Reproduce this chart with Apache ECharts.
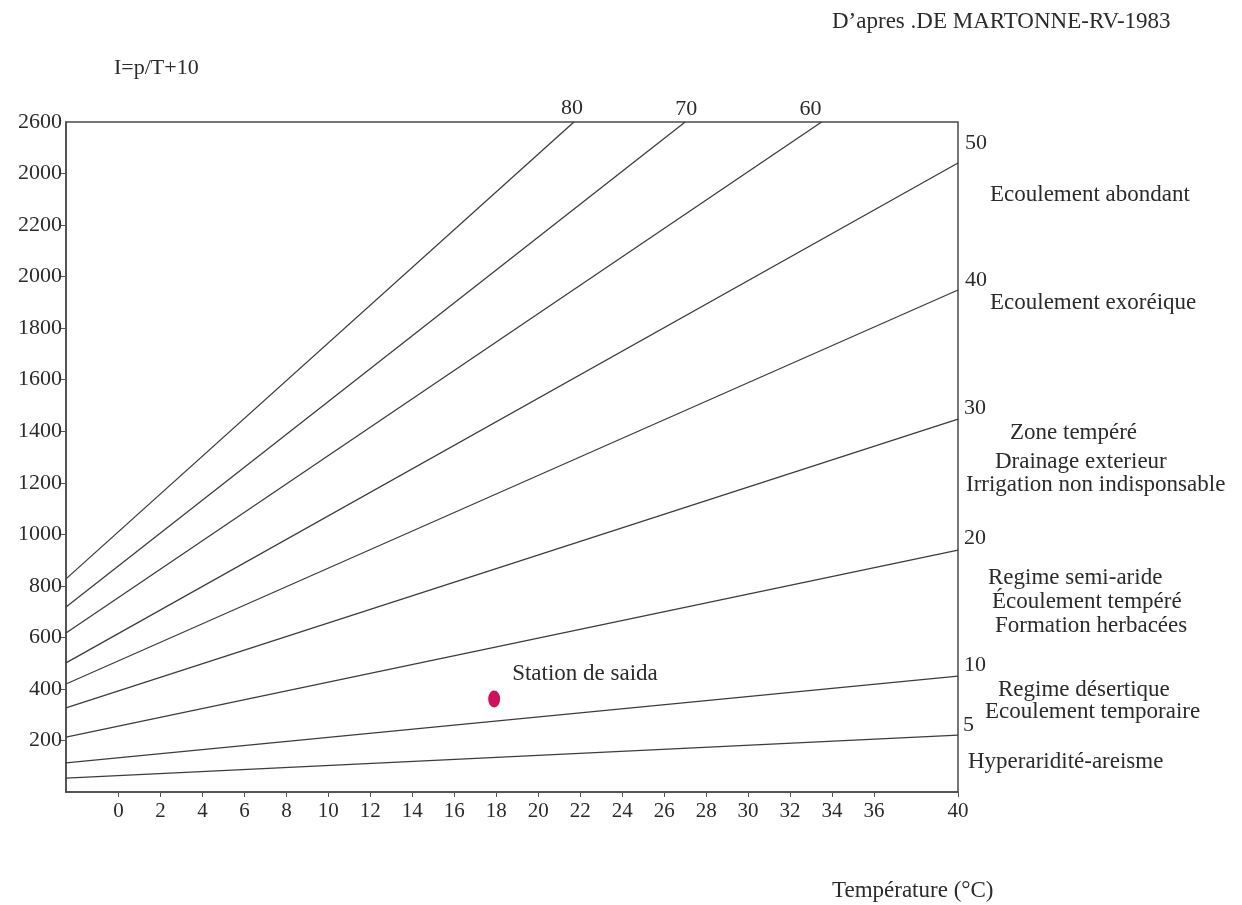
<!DOCTYPE html>
<html>
<head>
<meta charset="utf-8">
<title>Indice d'aridité de De Martonne</title>
<script src="https://cdn.jsdelivr.net/npm/echarts@6/dist/echarts.min.js"></script>
<style>
  html, body { margin: 0; padding: 0; background: #fff; }
  #chart { width: 1242px; height: 905px; }
</style>
</head>
<body>
<div id="chart"></div>
<script>
// Isolines of the De Martonne index I = P / (T + 10)
const indexLevels = ['80', '70', '60', '50', '40', '30', '20', '10', '5'];
const startT = -2.5;                                              // left edge of the diagram (°C)
const startP = [827, 718, 617, 501, 419, 326, 213, 113, 54];      // precipitation at the left edge (mm)
const endT   = [21.7, 27.0, 33.5, 40, 40, 40, 40, 40, 40];        // temperature where each isoline stops
const endP   = [2600, 2600, 2600, 2441, 1948, 1447, 939, 450, 221];

// Station
const stationName = 'Station de saida';
const stationT = 17.9;
const stationP = 361;

// Axis ticks
const xTickValues = [0, 2, 4, 6, 8, 10, 12, 14, 16, 18, 20, 22, 24, 26, 28, 30, 32, 34, 36, 40];
const yTickValues = [200, 400, 600, 800, 1000, 1200, 1400, 1600, 1800, 2000, 2200, 2400, 2600];
const yTickLabels = ['200', '400', '600', '800', '1000', '1200', '1400', '1600', '1800', '2000', '2200', '2000', '2600'];

// Climate zones written to the right of the diagram
const zoneTexts = [
  'Ecoulement abondant',
  'Ecoulement exoréique',
  'Zone tempéré',
  'Drainage exterieur',
  'Irrigation non indisponsable',
  'Regime semi-aride',
  'Écoulement tempéré',
  'Formation herbacées',
  'Regime désertique',
  'Ecoulement temporaire',
  'Hyperaridité-areisme'
];
const zonePos = [
  [990, 195], [990, 303], [1010, 433], [995, 462], [966, 485],
  [988, 578], [992, 602], [995, 626], [998, 690], [985, 712], [968, 762]
];

const FONT = '"Liberation Serif", "DejaVu Serif", serif';
const TXT = '#2b2b2b';

// placement of the index number at the end of each isoline
const endLabelLayout = [
  { position: 'top', distance: 3, offset: [-2, 0] },
  { position: 'top', distance: 2, offset: [1, 0] },
  { position: 'top', distance: 2, offset: [-11, 0] },
  { position: 'right', distance: 7, offset: [0, -20] },
  { position: 'right', distance: 7, offset: [0, -10] },
  { position: 'right', distance: 6, offset: [0, -11] },
  { position: 'right', distance: 6, offset: [0, -12] },
  { position: 'right', distance: 6, offset: [0, -11] },
  { position: 'right', distance: 5, offset: [0, -10] }
];

const isolineSeries = indexLevels.map((name, i) => ({
  name: name,
  type: 'line',
  silent: true,
  symbol: 'circle',
  symbolSize: 0,
  showSymbol: true,
  showAllSymbol: true,
  itemStyle: { color: '#3c3c3c', opacity: 1 },
  lineStyle: { color: '#3c3c3c', width: 1.3 },
  label: { show: false },
  data: [
    { value: [startT, startP[i]], label: { show: false } },
    {
      value: [endT[i], endP[i]],
      label: Object.assign({
        show: true,
        formatter: name,
        fontFamily: FONT,
        fontSize: 22,
        color: TXT
      }, endLabelLayout[i])
    }
  ],
  z: 2
}));

const stationSeries = {
  name: stationName,
  type: 'scatter',
  symbol: 'circle',
  symbolSize: [12, 17],
  itemStyle: { color: '#d0105a', opacity: 1 },
  label: {
    show: true,
    formatter: stationName,
    position: [24, -17],
    align: 'left',
    verticalAlign: 'middle',
    fontFamily: FONT,
    fontSize: 23,
    color: TXT,
    opacity: 1
  },
  data: [[stationT, stationP]],
  z: 5
};

const graphics = [
  { type: 'text', left: 832, top: 10, style: { text: 'D’apres .DE MARTONNE-RV-1983', font: '23px ' + FONT, fill: TXT } },
  { type: 'text', left: 114, top: 57, style: { text: 'I=p/T+10', font: '22px ' + FONT, fill: TXT } },
  { type: 'text', left: 832, top: 879, style: { text: 'Température (°C)', font: '23px ' + FONT, fill: TXT } }
].concat(zoneTexts.map((t, i) => ({
  type: 'text',
  x: zonePos[i][0],
  y: zonePos[i][1],
  style: { text: t, font: '23px ' + FONT, fill: TXT, verticalAlign: 'middle' }
})));

const chart = echarts.init(document.getElementById('chart'));
chart.setOption({
  animation: false,
  backgroundColor: '#ffffff',
  grid: {
    left: 66, right: 284, top: 122, bottom: 113,
    show: true, borderColor: '#4a4a4a', borderWidth: 1.5, backgroundColor: 'transparent'
  },
  xAxis: {
    type: 'value',
    min: startT,
    max: 40,
    axisLine: { show: true, onZero: false, lineStyle: { color: '#4a4a4a', width: 1.5 } },
    axisTick: { show: true, customValues: xTickValues, length: 5, lineStyle: { color: '#555' } },
    axisLabel: {
      customValues: xTickValues,
      margin: 9,
      fontFamily: FONT,
      fontSize: 21,
      color: TXT
    },
    splitLine: { show: false }
  },
  yAxis: {
    type: 'value',
    min: 0,
    max: 2600,
    axisLine: { show: true, onZero: false, lineStyle: { color: '#4a4a4a', width: 1.5 } },
    axisTick: { show: true, customValues: yTickValues.slice(0, -1), length: 5, lineStyle: { color: '#555' } },
    axisLabel: {
      customValues: yTickValues,
      margin: 4,
      fontFamily: FONT,
      fontSize: 22,
      color: TXT,
      formatter: (v) => {
        const k = yTickValues.indexOf(Math.round(v));
        return k >= 0 ? yTickLabels[k] : '';
      }
    },
    splitLine: { show: false }
  },
  series: isolineSeries.concat([stationSeries]),
  graphic: graphics
});
</script>
</body>
</html>
